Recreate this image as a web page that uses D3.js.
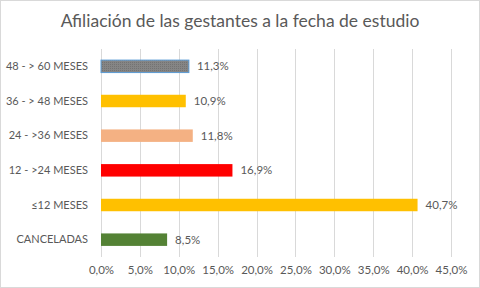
<!doctype html>
<html>
  <head>
    <meta charset="utf-8">
    <script src="https://d3js.org/d3.v7.min.js"></script>
    <style>
      body { margin: 0; background: white; }
      text { font-family: Lato, "Open Sans", sans-serif; fill: #595959; }
    </style>
  </head>
  <body>
    <svg class="chart" width="480" height="288"></svg>
    <script>
      var categories = ["48 - > 60 MESES", "36 - > 48 MESES", "24 - >36 MESES", "12 - >24 MESES", "\u226412 MESES", "CANCELADAS"];
      var values = [11.3, 10.9, 11.8, 16.9, 40.7, 8.5];
      var colors = ["#7f7f7f", "#ffc000", "#f4b183", "#ff0000", "#ffc000", "#548235"];
      var ticks = [0, 5, 10, 15, 20, 25, 30, 35, 40, 45];

      var svg = d3.select("svg");
      var fmt = function(d){ return d.toFixed(1).replace(".", ",") + "%"; };

      // outer border
      svg.append("rect").attr("x", 0.5).attr("y", 0.5).attr("width", 479).attr("height", 287)
        .attr("fill", "white").attr("stroke", "#d9d9d9");

      svg.append("text").attr("x", 240).attr("y", 27).attr("text-anchor", "middle")
        .style("font-size", "17.5px").text("Afiliación de las gestantes a la fecha de estudio");

      // dotted pattern for the first bar
      var pat = svg.append("defs").append("pattern").attr("id", "dots")
        .attr("width", 2).attr("height", 2).attr("patternUnits", "userSpaceOnUse");
      pat.append("rect").attr("width", 2).attr("height", 2).attr("fill", "#858585");
      pat.append("rect").attr("width", 1).attr("height", 1).attr("fill", "#737373");

      var x = d3.scaleLinear().domain([0, 45]).range([101, 451]);
      var y = d3.scaleBand().domain(categories).range([49, 257]).paddingInner(0.64).paddingOuter(0.32);

      svg.append("g").selectAll("line").data(ticks).enter().append("line")
        .attr("x1", function(d){ return Math.round(x(d)) + 0.5; })
        .attr("x2", function(d){ return Math.round(x(d)) + 0.5; })
        .attr("y1", 49).attr("y2", 257)
        .attr("stroke", "#d9d9d9").attr("stroke-width", 1);

      var xAxis = svg.append("g").attr("transform", "translate(0,257)")
        .call(d3.axisBottom(x).tickValues(ticks).tickFormat(fmt).tickSize(0).tickPadding(9));
      xAxis.select(".domain").remove();
      xAxis.selectAll("text").style("font-size", "11.5px").style("font-family", null).attr("fill", null);

      var yAxis = svg.append("g").attr("transform", "translate(88,0)")
        .call(d3.axisLeft(y).tickSize(0).tickPadding(0));
      yAxis.select(".domain").remove();
      yAxis.selectAll("text").style("font-size", "11px").style("font-family", null).attr("fill", null);

      svg.append("g").selectAll("rect").data(categories).enter().append("rect")
        .attr("x", x(0))
        .attr("y", function(d){ return y(d); })
        .attr("width", function(d, i){ return x(values[i]) - x(0); })
        .attr("height", y.bandwidth())
        .attr("fill", function(d, i){ return i === 0 ? "url(#dots)" : colors[i]; })
        .attr("stroke", function(d, i){ return i === 0 ? "#5b9bd5" : "none"; })
        .attr("stroke-width", 1);

      svg.append("g").selectAll("text").data(categories).enter().append("text")
        .attr("x", function(d, i){ return x(values[i]) + 8; })
        .attr("y", function(d){ return y(d) + y.bandwidth() / 2; })
        .attr("dy", "0.35em")
        .style("font-size", "11.5px")
        .text(function(d, i){ return fmt(values[i]); });
    </script>
  </body>
</html>
